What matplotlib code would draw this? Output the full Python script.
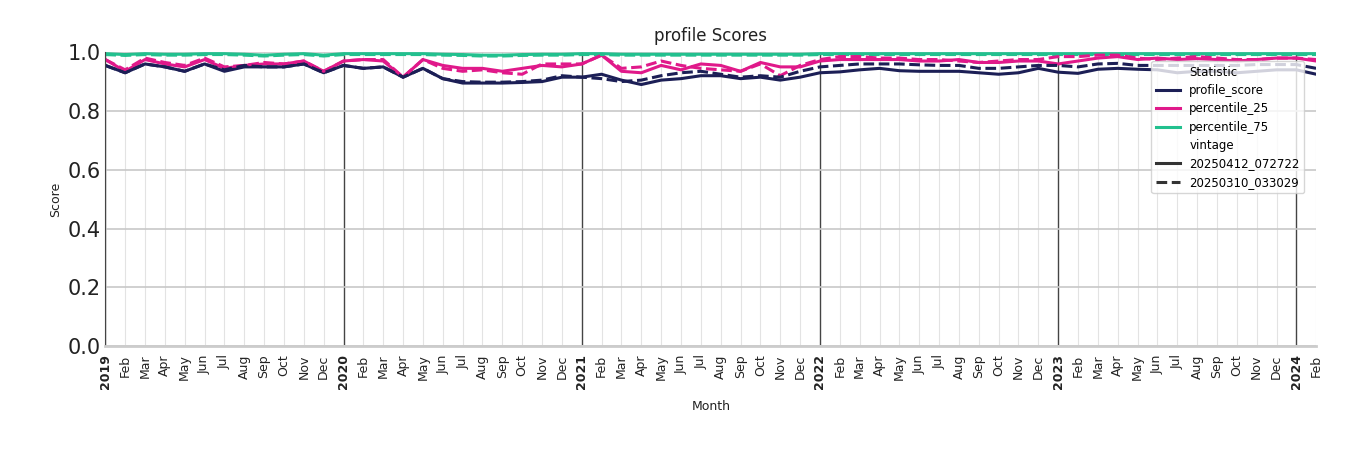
import numpy as np
import pandas as pd
import matplotlib
matplotlib.use("Agg")
import matplotlib.pyplot as plt

months = pd.date_range("2019-01-01", "2024-02-01", freq="MS")

profile_new = [.955,.93,.96,.95,.935,.96,.935,.95,.95,.95,.96,.93,
               .955,.945,.95,.915,.945,.91,.895,.895,.895,.897,.90,.915,
               .915,.925,.905,.89,.905,.91,.92,.92,.91,.915,.905,.915,
               .93,.933,.94,.945,.937,.935,.935,.935,.93,.925,.93,.945,
               .932,.928,.942,.945,.942,.94,.93,.935,.935,.93,.935,.94,
               .94,.925]
profile_old = [.955,.93,.96,.95,.935,.96,.94,.955,.95,.95,.96,.93,
               .955,.945,.95,.915,.945,.91,.90,.898,.898,.90,.905,.92,
               .915,.91,.90,.905,.92,.93,.935,.925,.915,.92,.915,.935,
               .95,.955,.96,.96,.96,.957,.955,.955,.945,.945,.95,.955,
               .955,.95,.96,.962,.955,.955,.955,.955,.955,.955,.958,.958,
               .958,.945]
p25_new = [.975,.935,.975,.96,.95,.975,.945,.955,.96,.96,.97,.935,
           .97,.975,.97,.915,.975,.955,.945,.945,.935,.945,.955,.95,
           .96,.99,.935,.93,.955,.94,.96,.955,.935,.965,.95,.95,
           .97,.975,.975,.975,.975,.97,.97,.975,.965,.965,.97,.97,
           .96,.97,.98,.985,.975,.98,.975,.978,.975,.97,.975,.98,
           .98,.97]
p25_old = [.975,.94,.98,.965,.955,.98,.95,.955,.965,.96,.97,.935,
           .97,.975,.975,.915,.975,.945,.935,.94,.93,.925,.96,.96,
           .96,.99,.945,.95,.97,.955,.945,.94,.935,.96,.92,.955,
           .975,.985,.985,.98,.98,.975,.975,.97,.965,.97,.975,.975,
           .985,.985,.99,.99,.98,.975,.98,.985,.98,.975,.975,.98,
           .98,.975]
p75_new = [.995,.992,.995,.993,.993,.995,.995,.993,.99,.993,.995,.99,
           .995,.995,.995,.995,.995,.993,.992,.99,.99,.992,.993,.993,
           .995,.995,.993,.993,.993,.993,.993,.993,.993,.993,.993,.993,
           .995,.995,.995,.995,.995,.995,.995,.995,.995,.995,.995,.995,
           .995,.995,.995,.995,.995,.995,.995,.995,.995,.995,.995,.995,
           .995,.995]
p75_old = [v - 0.003 for v in p75_new]

C_PROF, C_P25, C_P75 = "#1c1f56", "#e0198a", "#22c08e"

fig = plt.figure(figsize=(13.5, 4.5), dpi=100)
ax = fig.add_axes([0.078, 0.231, 0.897, 0.653])
ax.set_facecolor("white")
x = np.arange(len(months))
for ys, c in [(p75_new, C_P75), (p25_new, C_P25), (profile_new, C_PROF)]:
    ax.plot(x, ys, color=c, lw=2.2, ls="-")
for ys, c in [(p75_old, C_P75), (p25_old, C_P25), (profile_old, C_PROF)]:
    ax.plot(x, ys, color=c, lw=2.2, ls=(0, (3.5, 1.5)))

ax.set_xlim(0, len(months) - 1)
ax.set_ylim(0, 1.0)
ax.set_yticks(np.arange(0, 1.01, 0.2))
ax.set_yticklabels([f"{v:.1f}" for v in np.arange(0, 1.01, 0.2)], fontsize=15, color="#222")
ax.yaxis.grid(True, color="#c8c8c8", lw=1.2)
ax.set_xticks(x)
labels = [str(m.year) if m.month == 1 else m.strftime("%b") for m in months]
ax.set_xticklabels(labels, rotation=90, fontsize=9, color="#222")
for t, m in zip(ax.get_xticklabels(), months):
    if m.month == 1:
        t.set_fontweight("bold")
for xi, m in zip(x, months):
    if m.month == 1:
        ax.axvline(xi, color="#444", lw=1, zorder=0.5)
    else:
        ax.axvline(xi, color="#e3e3e3", lw=0.8, zorder=0.5)
ax.tick_params(length=0, axis="x", pad=6)
ax.tick_params(length=0, axis="y")
for s in ["top", "right"]:
    ax.spines[s].set_visible(False)
ax.spines["left"].set_color("#444")
ax.spines["bottom"].set_color("#cccccc")
ax.spines["bottom"].set_linewidth(2)
ax.set_title("profile Scores", fontsize=12, color="#222", pad=8)
ax.set_xlabel("Month", fontsize=9, color="#222", labelpad=8)
ax.set_ylabel("Score", fontsize=9, color="#222")

from matplotlib.lines import Line2D
h = [Line2D([], [], color="none"),
     Line2D([], [], color=C_PROF, lw=2.2),
     Line2D([], [], color=C_P25, lw=2.2),
     Line2D([], [], color=C_P75, lw=2.2),
     Line2D([], [], color="none"),
     Line2D([], [], color="#333", lw=2.2),
     Line2D([], [], color="#333", lw=2.2, ls=(0, (3.5, 1.5)))]
lab = ["Statistic", "profile_score", "percentile_25", "percentile_75", "vintage",
       "20250412_072722", "20250310_033029"]
ax.legend(h, lab, loc="upper right", bbox_to_anchor=(0.995, 0.99), fontsize=8.5,
          frameon=True, framealpha=0.8, edgecolor="#ccc", handlelength=2,
          labelspacing=0.45, borderpad=0.4)
fig.savefig("out.png", dpi=100)
